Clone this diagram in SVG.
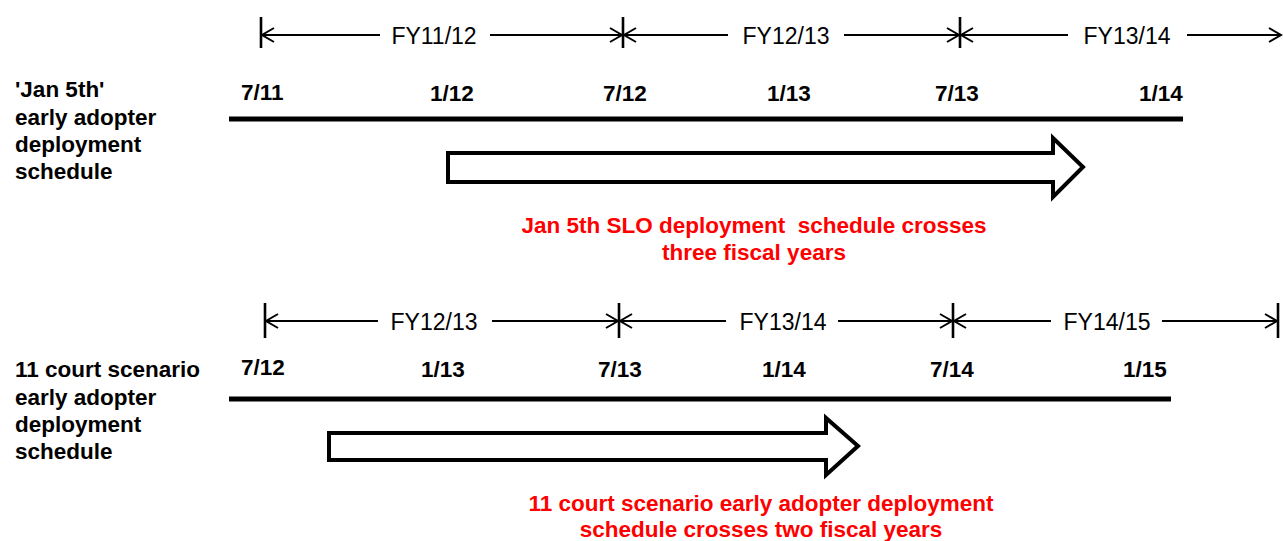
<svg xmlns="http://www.w3.org/2000/svg" width="1283" height="541" viewBox="0 0 1283 541">
<style>
text{font-family:"Liberation Sans",Arial,sans-serif;font-size:23px;fill:#000}
.b{font-weight:bold;font-size:22.5px}
.red{font-weight:bold;font-size:22.5px;fill:#ff0000}
.dim{stroke:#000;stroke-width:1.8;fill:none}
.tick{stroke:#000;stroke-width:2.6}
.ah{stroke:#000;stroke-width:2;fill:none}
.axis{stroke:#000;stroke-width:5}
.big{fill:#fff;stroke:#000;stroke-width:4;stroke-linejoin:miter}
</style>
<g id="labels-left">
<text class="b" x="15" y="97">'Jan 5th'</text>
<text class="b" x="15" y="125">early adopter</text>
<text class="b" x="15" y="152">deployment</text>
<text class="b" x="15" y="179">schedule</text>
<text class="b" x="15" y="377">11 court scenario</text>
<text class="b" x="15" y="405">early adopter</text>
<text class="b" x="15" y="432">deployment</text>
<text class="b" x="15" y="459">schedule</text>
</g>
<g id="connectors">
<line class="tick" x1="261" y1="17" x2="261" y2="48"/>
<line class="tick" x1="623" y1="17" x2="623" y2="48"/>
<line class="tick" x1="960" y1="17" x2="960" y2="48"/>
<line class="dim" x1="261" y1="35" x2="380" y2="35"/>
<line class="dim" x1="490" y1="35" x2="623" y2="35"/>
<line class="dim" x1="623" y1="35" x2="728" y2="35"/>
<line class="dim" x1="844" y1="35" x2="960" y2="35"/>
<line class="dim" x1="960" y1="35" x2="1068" y2="35"/>
<line class="dim" x1="1187" y1="35" x2="1281" y2="35"/>
<polyline class="ah" points="274,28 262,35 274,42"/>
<polyline class="ah" points="610,28 622,35 610,42"/>
<polyline class="ah" points="636,28 624,35 636,42"/>
<polyline class="ah" points="947,28 959,35 947,42"/>
<polyline class="ah" points="973,28 961,35 973,42"/>
<polyline class="ah" points="1269,28 1281,35 1269,42"/>
<line class="axis" x1="229" y1="119" x2="1183" y2="119"/>
<line class="tick" x1="265" y1="303" x2="265" y2="338"/>
<line class="tick" x1="619" y1="303" x2="619" y2="338"/>
<line class="tick" x1="953" y1="303" x2="953" y2="338"/>
<line class="tick" x1="1278" y1="303" x2="1278" y2="338"/>
<line class="dim" x1="265" y1="321" x2="378" y2="321"/>
<line class="dim" x1="492" y1="321" x2="619" y2="321"/>
<line class="dim" x1="619" y1="321" x2="726" y2="321"/>
<line class="dim" x1="838" y1="321" x2="953" y2="321"/>
<line class="dim" x1="953" y1="321" x2="1051" y2="321"/>
<line class="dim" x1="1162" y1="321" x2="1278" y2="321"/>
<polyline class="ah" points="278,314 266,321 278,328"/>
<polyline class="ah" points="606,314 618,321 606,328"/>
<polyline class="ah" points="632,314 620,321 632,328"/>
<polyline class="ah" points="940,314 952,321 940,328"/>
<polyline class="ah" points="966,314 954,321 966,328"/>
<polyline class="ah" points="1265,314 1277,321 1265,328"/>
<line class="axis" x1="229" y1="399" x2="1171" y2="399"/>
</g>
<g id="fy-top">
<text x="434" y="44" text-anchor="middle">FY11/12</text>
<text x="786" y="44" text-anchor="middle">FY12/13</text>
<text x="1127" y="44" text-anchor="middle">FY13/14</text>
</g>
<g id="dates-top">
<text class="b" x="241" y="100">7/11</text>
<text class="b" x="430" y="101">1/12</text>
<text class="b" x="603" y="101">7/12</text>
<text class="b" x="767" y="101">1/13</text>
<text class="b" x="935" y="101">7/13</text>
<text class="b" x="1139" y="101">1/14</text>
</g>
<g id="arrow-top">
<polygon class="big" points="448,153 1053,153 1053,138 1083,167 1053,197 1053,182 448,182"/>
</g>
<g id="note-top">
<text class="red" x="754" y="233" text-anchor="middle" xml:space="preserve">Jan 5th SLO deployment  schedule crosses</text>
<text class="red" x="754" y="260" text-anchor="middle">three fiscal years</text>
</g>
<g id="fy-bottom">
<text x="434" y="330" text-anchor="middle">FY12/13</text>
<text x="783" y="330" text-anchor="middle">FY13/14</text>
<text x="1107" y="330" text-anchor="middle">FY14/15</text>
</g>
<g id="dates-bottom">
<text class="b" x="241" y="375">7/12</text>
<text class="b" x="421" y="377">1/13</text>
<text class="b" x="598" y="377">7/13</text>
<text class="b" x="762" y="377">1/14</text>
<text class="b" x="930" y="377">7/14</text>
<text class="b" x="1123" y="377">1/15</text>
</g>
<g id="arrow-bottom">
<polygon class="big" points="329,433 826,433 826,418 858,446 826,475 826,460 329,460"/>
</g>
<g id="note-bottom">
<text class="red" x="761" y="511" text-anchor="middle">11 court scenario early adopter deployment</text>
<text class="red" x="761" y="537" text-anchor="middle">schedule crosses two fiscal years</text>
</g>
</svg>
